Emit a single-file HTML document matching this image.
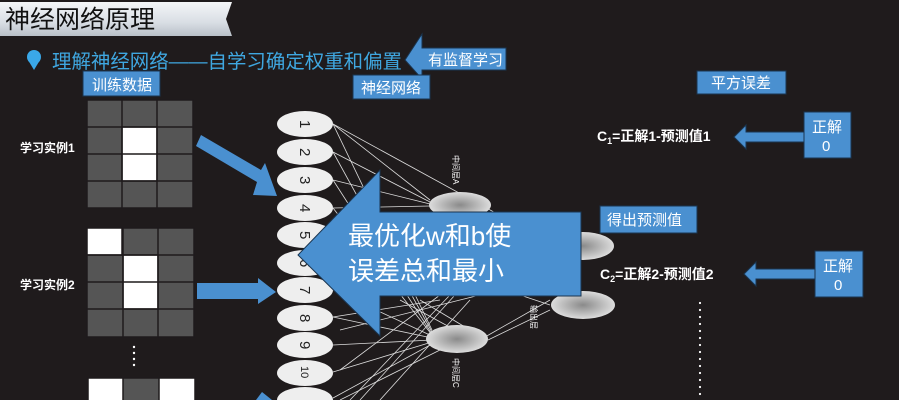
<!DOCTYPE html>
<html><head><meta charset="utf-8"><style>
html,body{margin:0;padding:0;background:#1f1b1c;}
svg{display:block}
text{font-family:"Liberation Sans","Noto Sans CJK SC",sans-serif;}
</style></head><body>
<svg width="899" height="400" viewBox="0 0 899 400" xmlns="http://www.w3.org/2000/svg">
<defs>
<linearGradient id="tb" x1="0" y1="0" x2="0" y2="1">
<stop offset="0" stop-color="#f4f6f8"/><stop offset="0.6" stop-color="#d9dee4"/><stop offset="1" stop-color="#b9c0c8"/></linearGradient>
<radialGradient id="nd" cx="0.5" cy="0.5" r="0.6"><stop offset="0" stop-color="#8a8a8a"/><stop offset="0.7" stop-color="#cfcfcf"/><stop offset="1" stop-color="#eeeeee"/></radialGradient>
</defs>
<rect width="899" height="400" fill="#1f1b1c"/>
<path d="M0 2 H232 L226 19 L232 36 H0 Z" fill="url(#tb)"/>
<text x="5" y="28" font-size="25" fill="#111">神经网络原理</text>
<circle cx="34" cy="57" r="7" fill="#3aa8e8"/>
<path d="M28 60 L34 70 L40 60 Z" fill="#3aa8e8"/>
<text x="52" y="68" font-size="19.5" fill="#3fa7e0" textLength="350" lengthAdjust="spacingAndGlyphs">理解神经网络——自学习确定权重和偏置</text>
<path d="M405 60 L422 34 L422 48 L506 48 L506 70 L422 70 L422 79 Z" fill="#4a90d0" stroke="#1a3550" stroke-width="1"/>
<text x="428" y="65" font-size="15" fill="#fff">有监督学习</text>
<rect x="83" y="71" width="77" height="25" fill="#4a90d0" stroke="#1a3550"/>
<text x="92" y="90" font-size="15" fill="#fff">训练数据</text>
<rect x="353" y="75" width="77" height="24" fill="#4a90d0" stroke="#1a3550"/>
<text x="361" y="93" font-size="15" fill="#fff">神经网络</text>
<rect x="697" y="71" width="89" height="23" fill="#4a90d0" stroke="#1a3550"/>
<text x="711" y="88" font-size="15" fill="#fff">平方误差</text>
<g stroke="#1f1b1c" stroke-width="1.5">
<g transform="translate(87,100)">
<rect width="106" height="108" fill="#555"/>
<rect x="35" y="27" width="35" height="54" fill="#fff"/>
<path d="M35 0V108M70 0V108M0 27H106M0 54H106M0 81H106" fill="none"/>
</g>
<g transform="translate(87,228)">
<rect width="107" height="109" fill="#555"/>
<rect x="0" y="0" width="35" height="27" fill="#fff"/>
<rect x="36" y="27" width="35" height="54" fill="#fff"/>
<path d="M36 0V109M71 0V109M0 27H107M0 54H107M0 81H107" fill="none"/>
</g>
<g transform="translate(88,378)">
<rect width="107" height="30" fill="#555"/>
<rect x="0" y="0" width="35" height="30" fill="#fff"/>
<rect x="71" y="0" width="36" height="30" fill="#fff"/>
</g>
</g>
<text x="20" y="152" font-size="12" font-weight="bold" fill="#fff">学习实例1</text>
<text x="20" y="289" font-size="12" font-weight="bold" fill="#fff">学习实例2</text>
<g fill="#fff"><circle cx="134" cy="347" r="1.2"/><circle cx="134" cy="353" r="1.2"/><circle cx="134" cy="359" r="1.2"/><circle cx="134" cy="365" r="1.2"/></g>
<g fill="#fff"><circle cx="700" cy="303" r="1.1"/><circle cx="700" cy="310" r="1.1"/><circle cx="700" cy="317" r="1.1"/><circle cx="700" cy="324" r="1.1"/><circle cx="700" cy="331" r="1.1"/><circle cx="700" cy="338" r="1.1"/><circle cx="700" cy="345" r="1.1"/><circle cx="700" cy="352" r="1.1"/><circle cx="700" cy="359" r="1.1"/><circle cx="700" cy="366" r="1.1"/><circle cx="700" cy="373" r="1.1"/><circle cx="700" cy="380" r="1.1"/><circle cx="700" cy="387" r="1.1"/><circle cx="700" cy="394" r="1.1"/></g>
<path d="M196 146 L201 135 L261 170 L265 163 L277 196 L253 195 L257 182 Z" fill="#4a90d0"/>
<path d="M197 283 H258 V278 L276 292 L258 304 V299 H197 Z" fill="#4a90d0"/>
<path d="M256 400 L262 392 L272 400 Z" fill="#4a90d0"/>
<g stroke="#ddd" stroke-width="0.8">
<line x1="333" y1="124" x2="430" y2="200"/><line x1="333" y1="124" x2="432" y2="330"/><line x1="333" y1="124" x2="545" y2="240"/>
<line x1="333" y1="152" x2="430" y2="202"/><line x1="333" y1="152" x2="432" y2="332"/>
<line x1="333" y1="180" x2="430" y2="204"/><line x1="333" y1="180" x2="432" y2="334"/>
<line x1="333" y1="208" x2="430" y2="206"/><line x1="333" y1="208" x2="432" y2="335"/>
<line x1="333" y1="290" x2="432" y2="336"/><line x1="333" y1="317" x2="432" y2="338"/>
<line x1="333" y1="345" x2="432" y2="340"/><line x1="333" y1="372" x2="432" y2="342"/>
<line x1="333" y1="398" x2="432" y2="344"/><line x1="340" y1="400" x2="440" y2="350"/>
<line x1="350" y1="400" x2="450" y2="295"/><line x1="360" y1="400" x2="455" y2="295"/>
<line x1="380" y1="400" x2="470" y2="300"/><line x1="340" y1="370" x2="440" y2="295"/>
<line x1="340" y1="330" x2="480" y2="295"/><line x1="333" y1="317" x2="440" y2="300"/>
<line x1="400" y1="300" x2="455" y2="330"/><line x1="420" y1="300" x2="470" y2="330"/>
<line x1="485" y1="337" x2="550" y2="300"/><line x1="488" y1="340" x2="550" y2="310"/>
<line x1="520" y1="295" x2="550" y2="305"/>
</g>
<g font-size="15" fill="#222">
<g transform="translate(305,124)"><ellipse rx="28" ry="13" fill="#eee"/><text transform="rotate(90)" x="-4" y="5">1</text></g>
<g transform="translate(305,152)"><ellipse rx="28" ry="13" fill="#eee"/><text transform="rotate(90)" x="-4" y="5">2</text></g>
<g transform="translate(305,180)"><ellipse rx="28" ry="13" fill="#eee"/><text transform="rotate(90)" x="-4" y="5">3</text></g>
<g transform="translate(305,208)"><ellipse rx="28" ry="13" fill="#eee"/><text transform="rotate(90)" x="-4" y="5">4</text></g>
<g transform="translate(305,235)"><ellipse rx="28" ry="13" fill="#eee"/><text transform="rotate(90)" x="-4" y="5">5</text></g>
<g transform="translate(305,263)"><ellipse rx="28" ry="13" fill="#eee"/><text transform="rotate(90)" x="-4" y="5">6</text></g>
<g transform="translate(305,290)"><ellipse rx="28" ry="13" fill="#eee"/><text transform="rotate(90)" x="-4" y="5">7</text></g>
<g transform="translate(305,318)"><ellipse rx="28" ry="13" fill="#eee"/><text transform="rotate(90)" x="-4" y="5">8</text></g>
<g transform="translate(305,345)"><ellipse rx="28" ry="13" fill="#eee"/><text transform="rotate(90)" x="-4" y="5">9</text></g>
<g transform="translate(305,373)"><ellipse rx="28" ry="13" fill="#eee"/><text transform="rotate(90)" x="-7" y="4" font-size="11">10</text></g>
<g transform="translate(305,400)"><ellipse rx="28" ry="13" fill="#eee"/></g>
</g>
<ellipse cx="460" cy="205" rx="31" ry="13" fill="url(#nd)"/>
<ellipse cx="457" cy="339" rx="31" ry="14" fill="url(#nd)"/>
<ellipse cx="583" cy="246" rx="31" ry="14" fill="url(#nd)"/>
<ellipse cx="583" cy="305" rx="32" ry="14" fill="url(#nd)"/>
<g font-size="8" fill="#fff">
<text transform="translate(453,155) rotate(90)">中间层A</text>
<text transform="translate(453,358) rotate(90)">中间层C</text>
<text transform="translate(531,305) rotate(90)">输出层</text>
</g>
<path d="M298 255 L380 170 V212 H581 V296 H380 V336 Z" fill="#4a90d0" stroke="#1a3550" stroke-width="1"/>
<text x="348" y="245" font-size="26" fill="#fff">最优化w和b使</text>
<text x="348" y="280" font-size="26" fill="#fff">误差总和最小</text>
<rect x="600" y="206" width="97" height="27" fill="#4a90d0" stroke="#1a3550"/>
<text x="607" y="225" font-size="15" fill="#fff">得出预测值</text>
<text x="597" y="141" font-size="14" font-weight="bold" fill="#fff">C<tspan font-size="9" dy="3">1</tspan><tspan dy="-3">=正解1-预测值1</tspan></text>
<text x="600" y="279" font-size="14" font-weight="bold" fill="#fff">C<tspan font-size="9" dy="3">2</tspan><tspan dy="-3">=正解2-预测值2</tspan></text>
<path d="M734 137 L746 125 V132 H805 V142 H746 V149 Z" fill="#4a90d0" stroke="#1a3550"/>
<path d="M744 274 L756 262 V269 H816 V279 H756 V286 Z" fill="#4a90d0" stroke="#1a3550"/>
<rect x="804" y="112" width="47" height="46" fill="#4a90d0" stroke="#1a3550"/>
<text x="812" y="132" font-size="15" fill="#fff">正解</text><text x="822" y="151" font-size="15" fill="#fff">0</text>
<rect x="815" y="251" width="48" height="46" fill="#4a90d0" stroke="#1a3550"/>
<text x="823" y="271" font-size="15" fill="#fff">正解</text><text x="834" y="290" font-size="15" fill="#fff">0</text>
</svg>
</body></html>
